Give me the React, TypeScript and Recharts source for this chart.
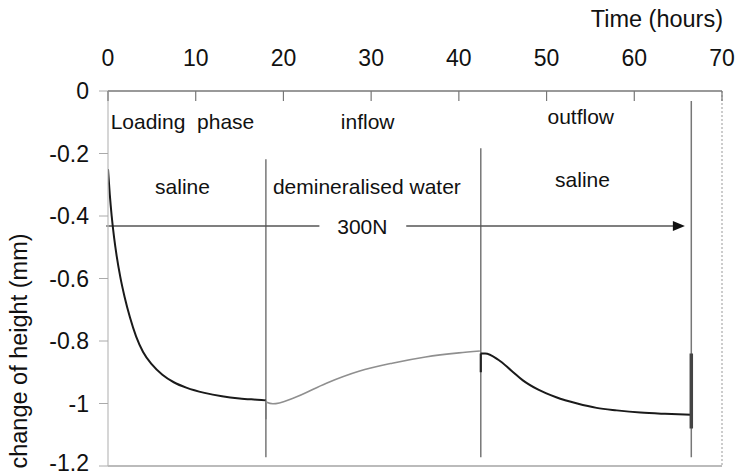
import React from "react";
import {
  LineChart,
  Line,
  XAxis,
  YAxis,
  ReferenceLine,
  ReferenceDot,
  Label,
} from "recharts";

// hours / change of height (mm), one pair of arrays per phase
const loadTime = [0, 0.2, 0.42, 0.7, 1.0, 1.4, 1.9, 2.5, 3.2, 4.0, 5.0, 6.2, 7.5, 9.0, 11, 13, 15, 17, 18];
const loadHeight = [-0.25, -0.33, -0.4, -0.47, -0.53, -0.595, -0.66, -0.724, -0.785, -0.835, -0.875, -0.908, -0.932, -0.95, -0.966, -0.977, -0.984, -0.988, -0.99];

const inflowTime = [18, 18.8, 21.1, 24.9, 28.6, 32.4, 36.2, 40.0, 42.4];
const inflowHeight = [-0.995, -1.001, -0.983, -0.935, -0.897, -0.871, -0.851, -0.838, -0.832];

const outflowTime = [42.5, 43.0, 44.5, 46.0, 47.3, 49.0, 51.1, 53.5, 55.7, 58.0, 60.7, 63.5, 66.5];
const outflowHeight = [-0.84, -0.84, -0.86, -0.895, -0.926, -0.955, -0.98, -1.0, -1.014, -1.022, -1.029, -1.033, -1.036];

// short vertical jumps where the fluid is switched
const switchInTime = [18, 18];
const switchInHeight = [-0.99, -1.05];
const switchOutTime = [42.5, 42.5];
const switchOutHeight = [-0.84, -0.9];
const endTime = [66.5, 66.5];
const endHeight = [-0.84, -1.08];

const hourTicks = [0, 10, 20, 30, 40, 50, 60, 70];
const heightTicks = [0, -0.2, -0.4, -0.6, -0.8, -1, -1.2];

// phase boundaries: [time, top of line]
const phaseTimes = [18, 42.5, 66.5];
const phaseTops = [-0.218, -0.183, -0.032];

const loadLevel = -0.432;

const toRows = (t: number[], v: number[]) => t.map((x, i) => ({ t: x, v: v[i] }));

const FONT = '"Liberation Sans", Arial, sans-serif';

const note = (text: string, anchor: "start" | "middle" | "end") => (p: any) => (
  <text
    x={p.cx}
    y={p.cy}
    textAnchor={anchor}
    dominantBaseline="central"
    fontSize={21}
    fontFamily={FONT}
    fill="#111"
    style={{ whiteSpace: "pre" }}
  >
    {text}
  </text>
);

const arrowHead = (p: any) => (
  <path d={`M${p.cx + 5},${p.cy} l-12,-5 l0,10 z`} fill="#111" />
);

const TopTick = (p: any) => (
  <g>
    <line x1={p.x} y1={p.y} x2={p.x} y2={p.y + 10} stroke="#777" strokeWidth={1.2} />
    <text
      x={p.x}
      y={p.y - 33}
      textAnchor="middle"
      dominantBaseline="central"
      fontSize={23}
      fontFamily={FONT}
      fill="#111"
    >
      {p.payload.value}
    </text>
  </g>
);

const segment = (t: number[], v: number[], stroke: string, width: number, curved = false) => (
  <Line
    data={toRows(t, v)}
    dataKey="v"
    type={curved ? "monotone" : "linear"}
    stroke={stroke}
    strokeWidth={width}
    dot={false}
    activeDot={false}
    isAnimationActive={false}
  />
);

export default function App() {
  return (
    <div style={{ position: "absolute", left: 0, top: 0, background: "#fff" }}>
      <LineChart
        width={736}
        height={476}
        margin={{ top: 0, right: 14, bottom: 10, left: 0 }}
      >
        <XAxis
          type="number"
          dataKey="t"
          orientation="top"
          domain={[0, 70]}
          ticks={hourTicks}
          height={91}
          tickSize={0}
          tickMargin={0}
          tick={<TopTick />}
          axisLine={{ stroke: "#777", strokeWidth: 1.5 }}
          allowDataOverflow
        >
          <Label
            content={(p: any) => (
              <text
                x={p.viewBox.x + p.viewBox.width + 1}
                y={19}
                textAnchor="end"
                dominantBaseline="central"
                fontSize={23.5}
                fontFamily={FONT}
                fill="#111"
              >
                Time (hours)
              </text>
            )}
          />
        </XAxis>
        <YAxis
          type="number"
          domain={[-1.2, 0]}
          ticks={heightTicks}
          width={108}
          tickSize={9}
          tickMargin={10}
          tickLine={{ stroke: "#aaa" }}
          axisLine={{ stroke: "#bbb", strokeWidth: 1.2 }}
          tick={{ fontSize: 23, fontFamily: FONT, fill: "#111" }}
          allowDataOverflow
        >
          <Label
            content={() => (
              <text
                x={19}
                y={351}
                transform="rotate(-90 19 351)"
                textAnchor="middle"
                dominantBaseline="central"
                fontSize={23.5}
                fontFamily={FONT}
                fill="#111"
              >
                change of height (mm)
              </text>
            )}
          />
        </YAxis>

        {/* frame: bottom edge and dotted right edge */}
        <ReferenceLine y={-1.2} stroke="#bbb" strokeWidth={2} />
        <ReferenceLine x={70} stroke="#999" strokeDasharray="2 2" />

        {/* phase boundaries */}
        {phaseTimes.map((t, i) => (
          <ReferenceLine
            key={t}
            segment={[{ x: t, y: phaseTops[i] }, { x: t, y: -1.172 }]}
            stroke="#777"
            strokeWidth={1.5}
          />
        ))}

        {/* 300N load arrow */}
        <ReferenceLine
          segment={[{ x: -0.2, y: loadLevel }, { x: 24.1, y: loadLevel }]}
          stroke="#555"
          strokeWidth={1.5}
          ifOverflow="visible"
        />
        <ReferenceLine
          segment={[{ x: 34.0, y: loadLevel }, { x: 65.2, y: loadLevel }]}
          stroke="#555"
          strokeWidth={1.5}
        />
        <ReferenceDot x={65.2} y={loadLevel} shape={arrowHead} />
        <ReferenceDot x={29} y={loadLevel} shape={note("300N", "middle")} />

        <ReferenceDot x={0.3} y={-0.096} shape={note("Loading\u00a0 phase", "start")} />
        <ReferenceDot x={29.6} y={-0.096} shape={note("inflow", "middle")} />
        <ReferenceDot x={53.9} y={-0.08} shape={note("outflow", "middle")} />
        <ReferenceDot x={8.5} y={-0.305} shape={note("saline", "middle")} />
        <ReferenceDot x={18.8} y={-0.305} shape={note("demineralised water", "start")} />
        <ReferenceDot x={54.1} y={-0.283} shape={note("saline", "middle")} />

        {segment(loadTime, loadHeight, "#1a1a1a", 2, true)}
        {segment(switchInTime, switchInHeight, "#777", 1.5)}
        {segment(inflowTime, inflowHeight, "#8f8f8f", 1.6, true)}
        {segment(outflowTime, outflowHeight, "#1a1a1a", 2, true)}
        {segment(switchOutTime, switchOutHeight, "#222", 2.2)}
        {segment(endTime, endHeight, "#444", 3.5)}
      </LineChart>
    </div>
  );
}
